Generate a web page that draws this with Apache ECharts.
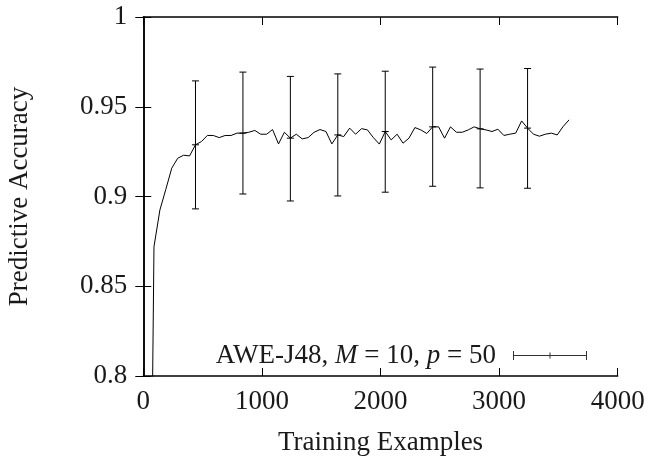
<!DOCTYPE html>
<html>
<head>
<meta charset="utf-8">
<script src="https://cdn.jsdelivr.net/npm/echarts@6/dist/echarts.min.js"></script>
<style>html,body{margin:0;padding:0;background:#fff}#c{width:650px;height:457px}</style>
</head>
<body>
<div id="c"></div>
<script>
// Training examples for each point of the curve
const examples = [40, 90, 140, 190, 240, 290, 340, 390, 440, 490, 540, 590, 640, 690, 740, 790, 840, 890, 940, 990,
  1040, 1090, 1140, 1190, 1240, 1290, 1340, 1390, 1440, 1490, 1540, 1590, 1640, 1690, 1740, 1790, 1840, 1890, 1940, 1990,
  2040, 2090, 2140, 2190, 2240, 2290, 2340, 2390, 2440, 2490, 2540, 2590, 2640, 2690, 2740, 2790, 2840, 2890, 2940, 2990,
  3040, 3090, 3140, 3190, 3240, 3290, 3340, 3390, 3440, 3490, 3540, 3590];
// Predictive accuracy values
const accuracy = [0.55, 0.872, 0.8925, 0.904, 0.9158, 0.9213, 0.923, 0.9226, 0.9288, 0.9306,
  0.934, 0.934, 0.9328, 0.934, 0.934, 0.9353, 0.9353, 0.9358, 0.9368, 0.9347,
  0.9347, 0.9373, 0.9293, 0.9358, 0.9325, 0.9347, 0.9321, 0.9328, 0.9358, 0.9373,
  0.9362, 0.9293, 0.9343, 0.9334, 0.9381, 0.9347, 0.9378, 0.9371, 0.9328, 0.9292,
  0.9362, 0.9315, 0.9347, 0.9297, 0.9325, 0.9384, 0.9371, 0.9351, 0.9388, 0.9388,
  0.9325, 0.9388, 0.9358, 0.9358, 0.9371, 0.9388, 0.9377, 0.9371, 0.9362, 0.9375,
  0.934, 0.9347, 0.9353, 0.9421, 0.9381, 0.9347, 0.9336, 0.9347, 0.9353, 0.9343,
  0.939, 0.9427];
// Error bars
const errX = [440, 840, 1240, 1640, 2040, 2440, 2840, 3240];
const errMid = [0.9288, 0.9353, 0.9325, 0.9343, 0.9362, 0.9388, 0.9377, 0.9381];
const errLow = [0.8931, 0.9014, 0.8975, 0.9003, 0.9024, 0.9057, 0.9048, 0.9046];
const errHigh = [0.9644, 0.9693, 0.9669, 0.9683, 0.9698, 0.9721, 0.9710, 0.9713];
// Axis ticks
const xMin = 0, xMax = 4000, xStep = 1000;
const yMin = 0.8, yMax = 1, yStep = 0.05;
const legendName = 'AWE-J48, M = 10, p = 50';

const FONT = 'Liberation Serif';
const FS = 27;
const TXT = '#1a1a1a';
const chart = echarts.init(document.getElementById('c'), null, {renderer: 'canvas'});
const tickStyle = {show: true, inside: true, length: 8, lineStyle: {color: '#000', width: 1}};
const lineStyleAxis = {show: true, lineStyle: {color: '#000', width: 1.5}};
const lineData = examples.map((x, i) => [x, accuracy[i]]);
const errData = errX.map((x, i) => [x, errLow[i], errHigh[i], errMid[i]]);

chart.setOption({
  animation: false,
  backgroundColor: '#fff',
  grid: {left: 143.3, right: 32.3, top: 17, bottom: 81, containLabel: false, outerBoundsMode: 'none'},
  xAxis: [{
    type: 'value', min: xMin, max: xMax, interval: xStep, position: 'bottom',
    name: 'Training Examples', nameLocation: 'middle', nameGap: 53,
    nameTextStyle: {fontFamily: FONT, fontSize: FS, color: TXT},
    axisLine: lineStyleAxis, axisTick: tickStyle, splitLine: {show: false},
    axisLabel: {fontFamily: FONT, fontSize: FS, color: TXT, margin: 12, formatter: v => String(v)}
  }, {
    type: 'value', min: xMin, max: xMax, interval: xStep, position: 'top',
    axisLine: lineStyleAxis, axisTick: tickStyle, splitLine: {show: false}, axisLabel: {show: false}
  }],
  yAxis: [{
    type: 'value', min: yMin, max: yMax, interval: yStep, position: 'left',
    name: 'Predictive Accuracy', nameLocation: 'middle', nameGap: 110,
    nameTextStyle: {fontFamily: FONT, fontSize: FS, color: TXT},
    axisLine: lineStyleAxis, axisTick: tickStyle, splitLine: {show: false},
    axisLabel: {fontFamily: FONT, fontSize: FS, color: TXT, margin: 16}
  }, {
    type: 'value', min: yMin, max: yMax, interval: yStep, position: 'right',
    axisLine: lineStyleAxis, axisTick: tickStyle, splitLine: {show: false}, axisLabel: {show: false}
  }],
  legend: {
    show: true, right: 58, top: 337, align: 'right', orient: 'horizontal',
    itemWidth: 74, itemHeight: 9,
    data: [{name: legendName, icon: 'path://M0,4 L74,4 L74,5 L0,5 Z M0,0 L1,0 L1,9 L0,9 Z M73,0 L74,0 L74,9 L73,9 Z M36.5,1.5 L37.5,1.5 L37.5,7.5 L36.5,7.5 Z'}],
    itemStyle: {color: '#333'},
    formatter: function () { return '{a|AWE-J48, }{i|M}{a| = 10, }{i|p}{a| = 50}'; },
    textStyle: {
      fontFamily: FONT, fontSize: FS, color: TXT, padding: [0, 12, 0, 0],
      rich: {
        a: {fontFamily: FONT, fontSize: FS, color: TXT},
        i: {fontFamily: FONT, fontSize: FS, color: TXT, fontStyle: 'italic'}
      }
    }
  },
  series: [{
    type: 'line', name: 'curve', data: lineData, showSymbol: false, symbol: 'none',
    clip: true, lineStyle: {color: '#000', width: 1}, itemStyle: {color: '#000'}
  }, {
    type: 'custom', name: legendName, data: errData, clip: true,
    itemStyle: {color: '#333'},
    renderItem: function (params, api) {
      const x = api.value(0);
      const lo = api.coord([x, api.value(1)]);
      const hi = api.coord([x, api.value(2)]);
      const mid = api.coord([x, api.value(3)]);
      const cap = 3.5, pl = 3.5;
      const st = {stroke: '#000', lineWidth: 1, fill: null};
      return {type: 'group', children: [
        {type: 'line', shape: {x1: lo[0], y1: lo[1], x2: hi[0], y2: hi[1]}, style: st},
        {type: 'line', shape: {x1: lo[0] - cap, y1: lo[1], x2: lo[0] + cap, y2: lo[1]}, style: st},
        {type: 'line', shape: {x1: hi[0] - cap, y1: hi[1], x2: hi[0] + cap, y2: hi[1]}, style: st},
        {type: 'line', shape: {x1: mid[0] - pl, y1: mid[1], x2: mid[0] + pl, y2: mid[1]}, style: st}
      ]};
    }
  }]
});
</script>
</body>
</html>
